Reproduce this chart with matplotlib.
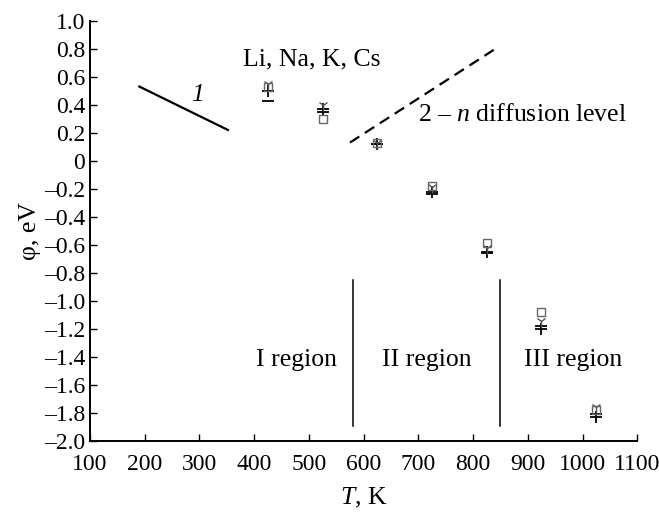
import numpy as np
import matplotlib.pyplot as plt

plt.rcParams['font.family'] = ['Liberation Serif', 'DejaVu Serif']
plt.rcParams['mathtext.fontset'] = 'custom'
plt.rcParams['mathtext.rm'] = 'Liberation Serif'
plt.rcParams['mathtext.it'] = 'Liberation Serif:italic'

T = [425, 525, 625, 725, 825, 925, 1025]
phi_li = [0.50, 0.37, 0.12, -0.22, -0.65, -1.20, -1.83]
phi_na = [0.43, 0.35, 0.12, -0.24, -0.66, -1.18, -1.81]
phi_k = [0.55, 0.40, 0.13, -0.19, -0.62, -1.14, -1.76]
phi_cs = [0.53, 0.30, 0.13, -0.18, -0.59, -1.08, -1.78]

line1_T = [190, 352]
line1_phi = [0.53, 0.22]
line2_T = [575, 845]
line2_phi = [0.13, 0.81]
region_bounds = [580, 850]

xticks = np.arange(100, 1101, 100)
yticks = np.round(np.arange(-2.0, 1.01, 0.2), 1)

fig = plt.figure(figsize=(6.59, 5.17), dpi=100)
ax = fig.add_axes([0.1366, 0.147, 0.8304, 0.813])

ax.plot(T, phi_li, ls='none', marker='+', ms=9, mew=1.3, color='black')
ax.plot(T, phi_na, ls='none', marker='_', ms=9, mew=1.3, color='black')
ax.plot(T, phi_k, ls='none', marker='1', ms=8, mew=1.0, color='#555555')
ax.plot(T, phi_cs, ls='none', marker='s', ms=6, mew=1.0, mfc='none', mec='#666666')

ax.plot(line1_T, line1_phi, color='black', lw=1.6)
ax.plot(line2_T, line2_phi, color='black', lw=1.6, ls=(0, (5, 3)))
for b in region_bounds:
    ax.plot([b, b], [-1.89, -0.85], color='black', lw=1.1)

fs = 17
fs_in = 18.5
ax.text(297, 0.47, '1', fontsize=fs_in, style='italic', ha='center', va='center')
ax.text(380, 0.72, 'Li, Na, K, Cs', fontsize=fs_in, ha='left', va='center')
ax.text(700, 0.33, r'$\mathit{2}$ – $\mathit{n}$ diffusion level', fontsize=fs_in, ha='left', va='center')
ax.text(478, -1.42, 'I region', fontsize=fs_in, ha='center', va='center')
ax.text(716, -1.42, 'II region', fontsize=fs_in, ha='center', va='center')
ax.text(983, -1.42, 'III region', fontsize=fs_in, ha='center', va='center')

ax.set_xlim(100, 1100)
ax.set_ylim(-2.0, 1.0)
ax.set_xticks(xticks)
ax.set_yticks(yticks)
ax.set_yticklabels(['0' if v == 0 else ('%.1f' % v).replace('-', '–') for v in yticks])
ax.tick_params(direction='in', labelsize=fs, length=5, width=1.0)
ax.tick_params(axis='x', pad=9)
for s in ['top', 'right']:
    ax.spines[s].set_visible(False)
for s in ['left', 'bottom']:
    ax.spines[s].set_linewidth(1.4)

ax.set_xlabel(r'$\mathit{T}$, K', fontsize=fs_in, labelpad=8)
ax.set_ylabel('φ, eV', fontsize=fs_in, labelpad=2)

fig.savefig('out.png', dpi=100)
